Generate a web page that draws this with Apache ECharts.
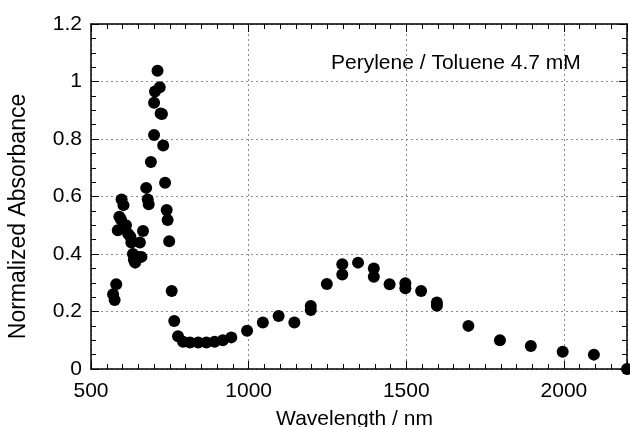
<!DOCTYPE html>
<html>
<head>
<meta charset="utf-8">
<script src="https://cdn.jsdelivr.net/npm/echarts@6/dist/echarts.min.js"></script>
<style>html,body{margin:0;padding:0;background:#fff}#c{width:630px;height:427px}</style>
</head>
<body>
<div id="c"></div>
<script>
const wavelength = [570, 575, 580, 585, 590, 595, 597, 603, 611, 618, 625, 628, 633, 636, 640, 645, 650, 655, 660, 665, 675, 680, 683, 690, 700, 700, 703, 711, 718, 721, 725, 729, 735, 740, 743, 748, 756, 764, 776, 792, 814, 840, 866, 892, 918, 945, 995, 1045, 1095, 1145, 1197, 1197, 1248, 1297, 1297, 1347, 1397, 1397, 1447, 1497, 1497, 1547, 1597, 1597, 1697, 1797, 1895, 1996, 2095, 2200];
const absorbance = [0.26, 0.24, 0.295, 0.483, 0.53, 0.52, 0.59, 0.57, 0.50, 0.47, 0.46, 0.44, 0.40, 0.38, 0.37, 0.39, 0.39, 0.44, 0.39, 0.48, 0.63, 0.59, 0.573, 0.72, 0.814, 0.926, 0.965, 1.037, 0.98, 0.889, 0.887, 0.777, 0.648, 0.553, 0.518, 0.444, 0.271, 0.167, 0.114, 0.095, 0.092, 0.092, 0.092, 0.095, 0.10, 0.11, 0.133, 0.162, 0.184, 0.162, 0.219, 0.205, 0.296, 0.364, 0.329, 0.37, 0.35, 0.321, 0.295, 0.298, 0.281, 0.271, 0.231, 0.22, 0.15, 0.10, 0.08, 0.06, 0.05, 0.0];
const xTicks = [500, 1000, 1500, 2000];
const yTicks = ['0', '0.2', '0.4', '0.6', '0.8', '1', '1.2'];
const xTitle = 'Wavelength / nm';
const yTitle = 'Normalized Absorbance';
const note = 'Perylene / Toluene 4.7 mM';

const font = 'Liberation Sans, Arial, sans-serif';
const chart = echarts.init(document.getElementById('c'));
const points = wavelength.map((w, i) => [w, absorbance[i]]);
const lineStyle = {color: '#000', width: 1.5};
const grid = {type: [2, 3], color: '#8a8a8a', width: 1};
chart.setOption({
  animation: false,
  grid: {left: 91, right: 3, top: 24, bottom: 58, containLabel: false, outerBoundsMode: 'none'},
  xAxis: [{
    type: 'value', min: 500, max: 2200, interval: 500, position: 'bottom',
    axisLine: {show: true, onZero: false, lineStyle},
    axisTick: {show: true, inside: true, length: 8, lineStyle: {color: '#000', width: 1}},
    minorTick: {show: true, splitNumber: 10, length: 5, lineStyle: {color: '#000', width: 1}},
    splitLine: {show: true, lineStyle: grid},
    axisLabel: {
      color: '#000', fontFamily: font, fontSize: 21, margin: 12, showMaxLabel: false,
      formatter: v => xTicks.includes(v) ? String(v) : ''
    },
    name: xTitle, nameLocation: 'middle', nameGap: 40,
    nameTextStyle: {color: '#000', fontFamily: font, fontSize: 21, padding: [0, 9, 0, 0]}
  }, {
    type: 'value', min: 500, max: 2200, interval: 500, position: 'top',
    axisLine: {show: true, onZero: false, lineStyle},
    axisTick: {show: true, inside: true, length: 8, lineStyle: {color: '#000', width: 1}},
    minorTick: {show: true, splitNumber: 10, length: 5, lineStyle: {color: '#000', width: 1}},
    splitLine: {show: false}, axisLabel: {show: false}
  }],
  yAxis: [{
    type: 'value', min: 0, max: 1.2, interval: 0.2, position: 'left',
    axisLine: {show: true, onZero: false, lineStyle},
    axisTick: {show: true, inside: true, length: 8, lineStyle: {color: '#000', width: 1}},
    minorTick: {show: true, splitNumber: 4, length: 5, lineStyle: {color: '#000', width: 1}},
    splitLine: {show: true, lineStyle: grid},
    axisLabel: {
      color: '#000', fontFamily: font, fontSize: 21, margin: 9,
      formatter: (v, i) => yTicks[i] !== undefined ? yTicks[i] : ''
    },
    name: yTitle, nameLocation: 'middle', nameGap: 61, nameRotate: 90,
    nameTextStyle: {color: '#000', fontFamily: font, fontSize: 23, padding: [0, 40, 0, 0]}
  }, {
    type: 'value', min: 0, max: 1.2, interval: 0.2, position: 'right',
    axisLine: {show: true, onZero: false, lineStyle},
    axisTick: {show: true, inside: true, length: 8, lineStyle: {color: '#000', width: 1}},
    minorTick: {show: true, splitNumber: 4, length: 5, lineStyle: {color: '#000', width: 1}},
    splitLine: {show: false}, axisLabel: {show: false}
  }],
  graphic: [{
    type: 'text', left: 331, top: 53,
    style: {text: note, fill: '#000', font: '21px ' + font}
  }],
  series: [{
    type: 'scatter', xAxisIndex: 0, yAxisIndex: 0, data: points,
    symbol: 'circle', symbolSize: 12, itemStyle: {color: '#000', opacity: 1}, clip: false
  }]
});
</script>
</body>
</html>
